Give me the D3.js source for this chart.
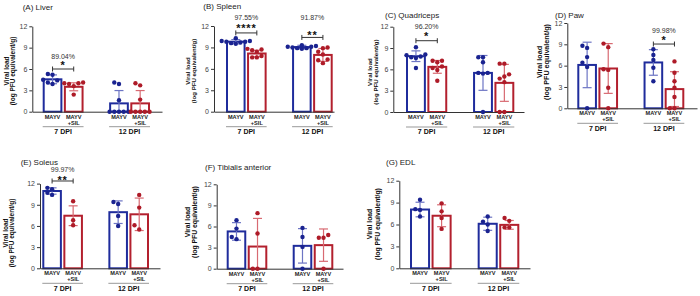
<!DOCTYPE html>
<html><head><meta charset="utf-8">
<script src="https://cdn.jsdelivr.net/npm/d3@7"></script>
<style>
body{margin:0;background:#fff}
svg{display:block}
text{font-family:"Liberation Sans",Arial,Helvetica,sans-serif}
</style>
</head><body><svg id="c" width="700" height="296"></svg>
<script>
// ---------------- DATA ----------------
const groups = ["7 DPI", "12 DPI"];
const treatments = ["MAYV", "MAYV\n+SIL"];
const yTicks = [0, 3, 6, 9, 12];
const panelTitles = ["(A) Liver", "(B) Spleen", "(C) Quadriceps", "(D) Paw", "(E) Soleus", "(F) Tibialis anterior", "(G) EDL"];
const yTitle = ["Viral load", "(log PFU equivalent/g)"];
// bar order: 7 DPI MAYV, 7 DPI MAYV+SIL, 12 DPI MAYV, 12 DPI MAYV+SIL
const liverMean = [4.55, 3.5, 1.17, 1.17];
const liverSD = [0.62, 0.56, 1.8, 1.8];
const liverPts = [[5.2, 5.3, 4.5, 4.4, 3.9, 4.1], [4.0, 4.1, 4.0, 3.9, 2.4, 3.6], [4.1, 3.9, 1.6, 0, 0, 0, 0, 0], [4.0, 3.7, 1.7, 0, 0, 0, 0, 0]];
const spleenMean = [9.8, 8.15, 9.05, 7.95];
const spleenSD = [0.3, 0.45, 0.25, 0.9];
const spleenPts = [[10.3, 9.9, 9.8, 9.8, 9.6, 9.5, 9.7, 9.9], [8.7, 8.8, 8.6, 8.4, 7.6, 7.6, 7.8], [9.3, 9.1, 9.2, 9.0, 8.8, 8.9, 9.1, 8.9], [9.0, 8.9, 8.4, 8.0, 7.3, 7.2, 6.8]];
const quadMean = [7.85, 6.35, 5.5, 4.1];
const quadSD = [0.75, 0.9, 2.45, 2.6];
const quadPts = [[9.1, 8.1, 8.0, 7.8, 7.6, 7.7, 6.2], [7.2, 7.2, 7.0, 6.4, 6.2, 5.9, 4.4], [7.7, 7.7, 7.0, 5.5, 5.4, 5.5, 0], [6.8, 6.8, 5.3, 5.0, 4.7, 4.2, 0, 0]];
const pawMean = [6.1, 5.6, 6.45, 2.7];
const pawSD = [3.2, 3.5, 1.8, 2.45];
const pawPts = [[8.5, 8.8, 7.2, 6.4, 5.8, 0], [9.1, 8.6, 5.4, 5.5, 2.9, 0], [8.3, 7.5, 6.8, 5.7, 3.8], [6.6, 5.0, 3.8, 2.9, 1.6, 0, 0]];
const soleusMean = [10.95, 7.45, 7.95, 7.65];
const soleusSD = [0.45, 1.4, 1.6, 2.3];
const soleusPts = [[11.2, 11.4, 10.4, 10.7], [9.5, 6.8, 6.1], [9.1, 9.4, 7.4, 6.0], [10.4, 8.6, 6.1, 5.5]];
const tibialisMean = [5.3, 3.15, 3.25, 3.35];
const tibialisSD = [1.25, 4.0, 2.45, 2.3];
const tibialisPts = [[6.9, 5.7, 4.2, 4.5], [7.9, 5.0, 0, 0], [5.8, 4.5, 3.1, 0], [4.8, 4.4, 4.4, 0]];
const edlMean = [8.05, 7.2, 6.1, 5.95];
const edlSD = [1.0, 1.5, 0.9, 0.6];
const edlPts = [[9.4, 8.0, 8.1, 7.1], [8.9, 7.8, 6.9, 5.4], [7.1, 6.4, 6.0, 5.1], [6.5, 6.9, 5.6, 5.6]];
// significance: [group index, reduction %, stars, bracket level, stars level, % level] (levels on the y scale)
const liverSig = [[0, "89.04%", "*", 6.0, 6.85, 7.75]];
const spleenSig = [[0, "97.55%", "****", 11.03, 12.05, 13.14], [1, "91.87%", "**", 10.4, 11.03, 13.14]];
const quadSig = [[0, "96.20%", "*", 10.03, 10.93, 12.0]];
const pawSig = [[1, "99.98%", "*", 9.04, 9.85, 11.0]];
const soleusSig = [[0, "99.97%", "**", 12.37, 12.83, 13.92]];
const tibialisSig = [];
const edlSig = [];

const allMeans = [liverMean, spleenMean, quadMean, pawMean, soleusMean, tibialisMean, edlMean];
const allSD = [liverSD, spleenSD, quadSD, pawSD, soleusSD, tibialisSD, edlSD];
const allPts = [liverPts, spleenPts, quadPts, pawPts, soleusPts, tibialisPts, edlPts];
const allSig = [liverSig, spleenSig, quadSig, pawSig, soleusSig, tibialisSig, edlSig];

// ---------------- LAYOUT ----------------
const layouts = [
  {ax: 32.3, y0: 111.7, y12: 26.3, b0: 42.7, b1: 150, xe: 162, tx: 22.7, ty: 7, yt: [6.5, 12.5, 71, 6.5]},
  {ax: 214, y0: 111.7, y12: 26, b0: 226, b1: 332.7, xe: 334, tx: 203.3, ty: 6, yt: [188, 194, 71, 6.1]},
  {ax: 393.3, y0: 112, y12: 26.7, b0: 406, b1: 514.3, xe: 524, tx: 385, ty: 15, yt: [369.5, 375.5, 72, 6.2]},
  {ax: 567.3, y0: 108.3, y12: 23, b0: 577.3, b1: 684.3, xe: 697, tx: 555, ty: 15, yt: [539.5, 546, 62, 7.2]},
  {ax: 40, y0: 268.3, y12: 183.6, b0: 42.3, b1: 149, xe: 160, tx: 20.7, ty: 161.7, yt: [5.5, 12, 233, 6.5]},
  {ax: 216.7, y0: 268.7, y12: 184.3, b0: 226.7, b1: 333.3, xe: 343, tx: 205, ty: 167.3, yt: [188, 195, 222, 6.8]},
  {ax: 399.3, y0: 268.3, y12: 180.7, b0: 410, b1: 519.3, xe: 530, tx: 386, ty: 161.7, yt: [370, 378, 224, 6.8]}
];
const stroke = ["#1f2c9c", "#b3202e"];
const dotCol = ["#1a2390", "#ae1b28"];
const errCol = ["#6d75c4", "#d86a72"];

const svg = d3.select("#c");

function swarm(vals, cx, y, r) {
  const pts = vals.map(v => ({v, py: y(v)})).sort((a, b) => a.v - b.v);
  const placed = [];
  const d = 2 * r + 0.3;
  const offs = [0, -d, d, -2 * d, 2 * d, -3 * d, 3 * d];
  pts.forEach(p => {
    for (const o of offs) {
      const px = cx + o;
      if (placed.every(q => Math.hypot(q.px - px, q.py - p.py) >= d * 0.92)) { p.px = px; break; }
    }
    if (p.px === undefined) p.px = cx;
    placed.push(p);
  });
  return placed;
}

allMeans.forEach((means, k) => {
  const L = layouts[k];
  const g = svg.append("g");
  const y = d3.scaleLinear().domain([0, 12]).range([L.y0, L.y12]);
  const xg = d3.scaleBand().domain(groups).range([L.b0, L.b1]).paddingInner(0.385).paddingOuter(0);
  const xt = d3.scaleBand().domain(treatments).range([0, xg.bandwidth()]).paddingInner(0.07);
  const w = xt.bandwidth();

  // title
  g.append("text").attr("x", L.tx).attr("y", L.ty).attr("dy", "0.35em")
    .attr("font-size", 8).attr("fill", "#222").text(panelTitles[k]);

  // y title
  [0, 1].forEach(j => {
    g.append("text")
      .attr("transform", `translate(${L.yt[j]},${L.yt[2]}) rotate(-90)`)
      .attr("dy", "0.35em").attr("text-anchor", "middle")
      .attr("font-size", L.yt[3]).attr("font-weight", "bold").attr("fill", "#111")
      .text(yTitle[j]);
  });

  // y axis
  const ya = g.append("g").attr("transform", `translate(${L.ax},0)`)
    .call(d3.axisLeft(y).tickValues(yTicks).tickSize(3).tickSizeOuter(0).tickPadding(2));
  ya.select(".domain").attr("stroke", "#333");
  ya.selectAll(".tick line").attr("stroke", "#333");
  ya.selectAll(".tick text").attr("font-size", 7).attr("fill", "#444").attr("font-family", null);

  // bars
  means.forEach((m, i) => {
    const grp = groups[i >> 1], trt = treatments[i & 1], c = i & 1;
    const x0 = xg(grp) + xt(trt);
    g.append("rect").attr("x", x0 + 1).attr("y", y(m)).attr("width", w - 2).attr("height", y(0) - y(m))
      .attr("fill", "#fff").attr("stroke", stroke[c]).attr("stroke-width", 2);
  });

  // x axis
  const xl = d3.scaleLinear().range([L.ax, L.xe]);
  const xa = g.append("g").attr("transform", `translate(0,${L.y0})`)
    .call(d3.axisBottom(xl).tickValues([]).tickSizeOuter(0));
  xa.select(".domain").attr("stroke", "#333");

  // error bars and points
  means.forEach((m, i) => {
    const grp = groups[i >> 1], trt = treatments[i & 1], c = i & 1;
    const cx = xg(grp) + xt(trt) + w / 2;
    const sd = allSD[k][i];
    const top = y(m + sd), bot = y(Math.max(0, m - sd));
    const eb = g.append("g").attr("stroke", errCol[c]).attr("stroke-width", 1.2);
    eb.append("line").attr("x1", cx).attr("x2", cx).attr("y1", top).attr("y2", bot);
    eb.append("line").attr("x1", cx - 4.5).attr("x2", cx + 4.5).attr("y1", top).attr("y2", top);
    if (m - sd > 0) eb.append("line").attr("x1", cx - 4.5).attr("x2", cx + 4.5).attr("y1", bot).attr("y2", bot);
    const pts = swarm(allPts[k][i], cx, y, 2.2);
    g.selectAll(null).data(pts).enter().append("circle")
      .attr("cx", d => d.px).attr("cy", d => d.py).attr("r", 2.2).attr("fill", dotCol[c]);
  });

  // category labels
  groups.forEach(grp => {
    treatments.forEach(trt => {
      const cx = xg(grp) + xt(trt) + w / 2;
      trt.split("\n").forEach((line, li) => {
        g.append("text").attr("x", cx).attr("y", L.y0 + 7 + li * 6)
          .attr("text-anchor", "middle").attr("font-size", 5.6).attr("font-weight", "bold")
          .attr("fill", "#222").text(line);
      });
    });
    g.append("line").attr("x1", xg(grp)).attr("x2", xg(grp) + xg.bandwidth())
      .attr("y1", L.y0 + 15).attr("y2", L.y0 + 15).attr("stroke", "#999").attr("stroke-width", 1);
    g.append("text").attr("x", xg(grp) + xg.bandwidth() / 2).attr("y", L.y0 + 20).attr("dy", "0.35em")
      .attr("text-anchor", "middle").attr("font-size", 7).attr("font-weight", "bold")
      .attr("fill", "#111").text(grp);
  });

  // significance
  allSig[k].forEach(s => {
    const grp = groups[s[0]];
    const xa1 = xg(grp) + xt(treatments[0]) + w / 2;
    const xa2 = xg(grp) + xt(treatments[1]) + w / 2;
    const by = y(s[3]);
    const sg = g.append("g").attr("stroke", "#333").attr("stroke-width", 1);
    sg.append("line").attr("x1", xa1).attr("x2", xa2).attr("y1", by).attr("y2", by);
    sg.append("line").attr("x1", xa1).attr("x2", xa1).attr("y1", by - 2.5).attr("y2", by + 2.5);
    sg.append("line").attr("x1", xa2).attr("x2", xa2).attr("y1", by - 2.5).attr("y2", by + 2.5);
    const mx = (xa1 + xa2) / 2;
    g.append("text").attr("x", mx).attr("y", y(s[4]) + 6).attr("text-anchor", "middle")
      .attr("font-size", 11).attr("font-weight", "bold").attr("letter-spacing", 0.8).attr("fill", "#111").text(s[2]);
    g.append("text").attr("x", mx).attr("y", y(s[5])).attr("dy", "0.35em").attr("text-anchor", "middle")
      .attr("font-size", 7).attr("fill", "#333").text(s[1]);
  });
});
</script>
</body></html>
